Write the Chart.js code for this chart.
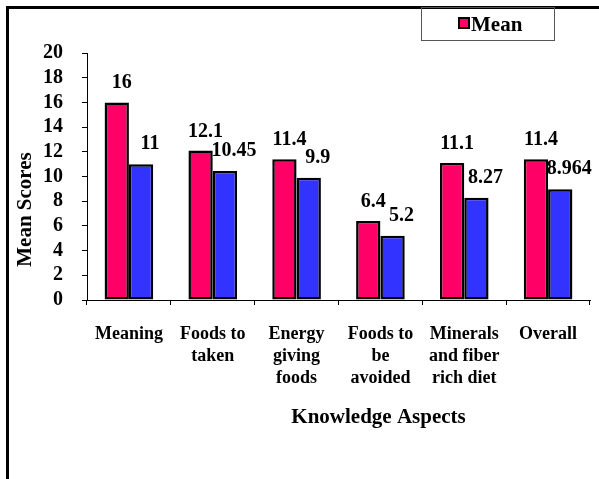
<!DOCTYPE html>
<html>
<head>
<meta charset="utf-8">
<script src="https://cdn.jsdelivr.net/npm/chart.js@4"></script>
<style>
  html, body { margin: 0; padding: 0; background: #fff; overflow: hidden; }
  #frame {
    position: absolute; left: 6px; top: 6px; width: 700px; height: 600px;
    border-left: 3px solid #000; border-top: 3px solid #000;
  }
  #wrap { position: absolute; left: 0; top: 0; width: 599px; height: 479px; }
</style>
</head>
<body>
<div id="frame"></div>
<div id="wrap"><canvas id="chart" width="599" height="479"></canvas></div>
<script>
const categories = [
  ['Meaning'],
  ['Foods to', 'taken'],
  ['Energy', 'giving', 'foods'],
  ['Foods to', 'be', 'avoided'],
  ['Minerals', 'and fiber', 'rich diet'],
  ['Overall']
];
const meanValues = [16, 12.1, 11.4, 6.4, 11.1, 11.4];
const secondValues = [11, 10.45, 9.9, 5.2, 8.27, 8.964];
const yTicks = { min: 0, max: 20, step: 2 };
const xTitle = 'Knowledge Aspects';
const yTitle = 'Mean Scores';

const serif = '"Liberation Serif", "Times New Roman", serif';

// value labels above each bar
const valueLabels = {
  id: 'valueLabels',
  afterDatasetsDraw(chart) {
    const ctx = chart.ctx;
    ctx.save();
    ctx.font = 'bold 20px ' + serif;
    ctx.fillStyle = '#000';
    ctx.textAlign = 'center';
    ctx.textBaseline = 'alphabetic';
    chart.data.datasets.forEach((ds, i) => {
      const dx = i === 0 ? 5 : 9;
      const dy = i === 0 ? 14 : 15;
      chart.getDatasetMeta(i).data.forEach((bar, j) => {
        ctx.fillText(String(ds.data[j]), bar.x + dx, bar.y - dy);
      });
    });
    ctx.restore();
  }
};

// axis titles and the boxed legend
const extras = {
  id: 'extras',
  afterDraw(chart) {
    const ctx = chart.ctx;
    const a = chart.chartArea;
    ctx.save();
    ctx.fillStyle = '#000';
    ctx.font = 'bold 21px ' + serif;
    ctx.textAlign = 'center';
    ctx.textBaseline = 'middle';
    ctx.fillText(xTitle, (a.left + a.right) / 2 + 40, a.bottom + 118);

    ctx.save();
    ctx.translate(a.left - 61, (a.top + a.bottom) / 2 + 33);
    ctx.rotate(-Math.PI / 2);
    ctx.fillText(yTitle, 0, 0);
    ctx.restore();

    // legend
    const ds = chart.data.datasets[0];
    ctx.strokeStyle = '#555';
    ctx.lineWidth = 1;
    ctx.strokeRect(421.5, 7.5, 133, 33);
    ctx.fillStyle = ds.backgroundColor;
    ctx.fillRect(459, 18, 10, 10);
    ctx.strokeStyle = '#000';
    ctx.lineWidth = 2;
    ctx.strokeRect(459, 18, 10, 10);
    ctx.fillStyle = '#000';
    ctx.font = 'bold 21px ' + serif;
    ctx.textAlign = 'left';
    ctx.textBaseline = 'alphabetic';
    ctx.fillText(ds.label, 471, 31);
    ctx.restore();
  }
};

new Chart(document.getElementById('chart'), {
  type: 'bar',
  data: {
    labels: categories,
    datasets: [
      {
        label: 'Mean',
        data: meanValues,
        backgroundColor: '#FF0066',
        borderColor: '#000',
        borderWidth: 2.5,
        borderSkipped: false
      },
      {
        label: 'Series 2',
        data: secondValues,
        backgroundColor: '#3333FF',
        borderColor: '#000',
        borderWidth: 2.5,
        borderSkipped: false
      }
    ]
  },
  options: {
    responsive: false,
    animation: false,
    events: [],
    layout: { padding: { top: 53, right: 9, bottom: 0, left: 0 } },
    plugins: {
      legend: { display: false },
      tooltip: { enabled: false }
    },
    datasets: {
      bar: { categoryPercentage: 0.58, barPercentage: 1.0 }
    },
    scales: {
      x: {
        grid: {
          display: true, drawOnChartArea: false, offset: true,
          color: '#000', tickLength: 5, tickColor: '#000'
        },
        border: { display: true, color: '#000', width: 1 },
        ticks: {
          color: '#000', padding: 19, maxRotation: 0, autoSkip: false,
          font: { family: serif, size: 18, weight: 'bold', lineHeight: 1.2 }
        },
        afterFit(s) { s.height = 179; }
      },
      y: {
        min: yTicks.min,
        max: yTicks.max,
        grid: {
          display: true, drawOnChartArea: false,
          color: '#000', tickLength: 5, tickColor: '#000'
        },
        border: { display: true, color: '#000', width: 1 },
        ticks: {
          stepSize: yTicks.step, autoSkip: false, color: '#000', padding: 19,
          font: { family: serif, size: 20, weight: 'bold' }
        },
        afterFit(s) { s.width = 87; }
      }
    }
  },
  plugins: [valueLabels, extras]
});
</script>
</body>
</html>
